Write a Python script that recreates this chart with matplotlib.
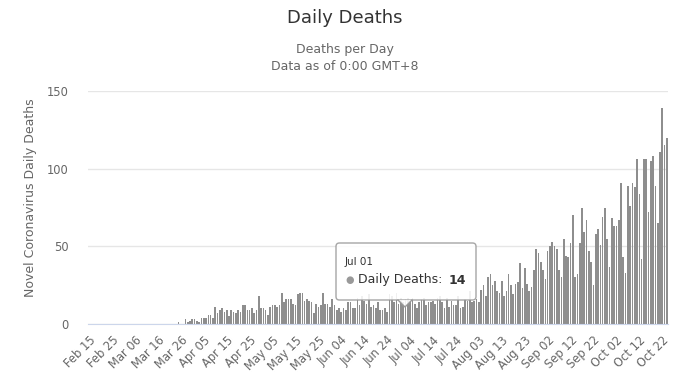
import numpy as np
import pandas as pd
import matplotlib
matplotlib.use("Agg")
import matplotlib.pyplot as plt
import matplotlib.dates as mdates
from matplotlib.patches import FancyBboxPatch, Polygon

# daily deaths, 2020-02-15 .. 2020-10-24, one list per month
feb = [0] * 15
mar = [0] * 24 + [1, 0, 0, 3, 1, 2, 3]
apr = [3, 2, 1, 4, 4, 4, 6, 6, 4, 11, 7, 9, 10, 8, 9, 5, 9, 8, 7, 9,
       8, 12, 12, 9, 9, 10, 7, 9, 18, 10]
may = [10, 9, 6, 11, 12, 12, 11, 12, 20, 14, 16, 16, 16, 13, 12, 19, 20, 20, 15, 16,
       15, 14, 7, 13, 11, 12, 20, 13, 13, 11, 16]
jun = [12, 9, 10, 8, 10, 9, 14, 14, 10, 10, 17, 12, 18, 15, 13, 19, 11, 12, 10, 14,
       9, 9, 10, 8, 19, 18, 14, 20, 13, 17]
jul = [14, 16, 17, 15, 17, 13, 10, 14, 16, 17, 12, 14, 14, 15, 13, 17, 18, 14, 10, 17,
       11, 15, 12, 12, 18, 10, 11, 16, 15, 21, 14]
aug = [15, 16, 14, 22, 25, 18, 30, 32, 25, 28, 21, 20, 28, 18, 21, 32, 25, 19, 26, 27,
       39, 23, 36, 26, 21, 24, 35, 48, 46, 40, 35]
sep = [29, 47, 50, 53, 50, 48, 35, 30, 55, 44, 43, 52, 70, 30, 32, 52, 75, 59, 67, 47,
       40, 25, 58, 61, 51, 69, 75, 55, 37, 68]
oct_ = [63, 63, 67, 91, 43, 33, 89, 76, 91, 88, 106, 84, 42, 106, 106, 72, 105, 108, 89, 65,
        111, 139, 115, 120]

deaths = feb + mar + apr + may + jun + jul + aug + sep + oct_
dates = pd.date_range("2020-02-15", periods=len(deaths), freq="D")
tick_dates = pd.date_range("2020-02-15", "2020-10-24", freq="10D")
y_ticks = [0, 50, 100, 150]

tip_date = pd.Timestamp("2020-07-01")
tip_value = deaths[list(dates).index(tip_date)]

plt.rcParams["font.family"] = ["DejaVu Sans"]

W, H = 690, 387
fig = plt.figure(figsize=(W / 100, H / 100), dpi=100)
ax = fig.add_axes([88 / W, 1 - 324 / H, 580 / W, 233 / H])

ax.bar(dates, deaths, width=0.72, color="#8e8e8e", linewidth=0, zorder=2)

ax.set_ylim(0, 150)
ax.set_yticks(y_ticks)
ax.set_xlim(dates[0] - pd.Timedelta(hours=12), dates[-1] + pd.Timedelta(hours=12))
ax.set_xticks(tick_dates)
ax.xaxis.set_major_formatter(mdates.DateFormatter("%b %d"))
for lab in ax.get_xticklabels():
    lab.set_rotation(45)
    lab.set_ha("right")
    lab.set_va("top")
    lab.set_rotation_mode("anchor")

ax.tick_params(axis="x", length=0, pad=7, labelsize=8.3, labelcolor="#666666")
ax.tick_params(axis="y", length=0, pad=14, labelsize=8.3, labelcolor="#666666")
ax.grid(axis="y", color="#e6e6e6", linewidth=1, zorder=0)
for s in ["top", "right", "left"]:
    ax.spines[s].set_visible(False)
ax.spines["bottom"].set_color("#ccd6eb")
ax.spines["bottom"].set_zorder(3)

fig.text(345 / W, 1 - 18 / H, "Daily Deaths", ha="center", va="center",
         fontsize=13, color="#333333")
fig.text(345 / W, 1 - 50 / H, "Deaths per Day", ha="center", va="center",
         fontsize=9, color="#666666")
fig.text(345 / W, 1 - 67 / H, "Data as of 0:00 GMT+8", ha="center", va="center",
         fontsize=9, color="#666666")
fig.text(31 / W, 1 - 198 / H, "Novel Coronavirus Daily Deaths", rotation=90,
         ha="center", va="center", fontsize=9, color="#666666")

# tooltip
bx0, bx1, by0, by1 = 336, 476, 243, 300
px = 405
box = FancyBboxPatch((bx0 / W, 1 - by1 / H), (bx1 - bx0) / W, (by1 - by0) / H,
                     boxstyle="round,pad=0,rounding_size=0.005",
                     mutation_aspect=W / H, transform=fig.transFigure,
                     facecolor="white", edgecolor="#999999", alpha=0.88,
                     linewidth=1, zorder=5)
fig.patches.append(box)
tri = Polygon([((px - 7) / W, 1 - by1 / H), ((px + 7) / W, 1 - by1 / H),
               (px / W, 1 - (by1 + 7) / H)], closed=True,
              transform=fig.transFigure, facecolor="white", edgecolor="none",
              alpha=0.88, zorder=6)
fig.patches.append(tri)
fig.lines.append(plt.Line2D([(px - 7) / W, px / W, (px + 7) / W],
                            [1 - by1 / H, 1 - (by1 + 7) / H, 1 - by1 / H],
                            transform=fig.transFigure, color="#999999",
                            linewidth=1, zorder=7))
fig.text(345 / W, 1 - 262 / H, tip_date.strftime("%b %d"), ha="left", va="center",
         fontsize=7.5, color="#333333", zorder=8)
fig.text(345 / W, 1 - 280 / H, "\u25cf", ha="left", va="center",
         fontsize=7, color="#999999", zorder=8)
lbl = fig.text(358 / W, 1 - 280 / H, "Daily Deaths:", ha="left", va="center",
               fontsize=9, color="#333333", zorder=8)
fig.canvas.draw()
x_end = lbl.get_window_extent().x1
fig.text((x_end + 6) / W, 1 - 280 / H, str(tip_value), ha="left", va="center",
         fontsize=9, color="#333333", fontweight="bold", zorder=8)

fig.savefig("out.png", dpi=100)
